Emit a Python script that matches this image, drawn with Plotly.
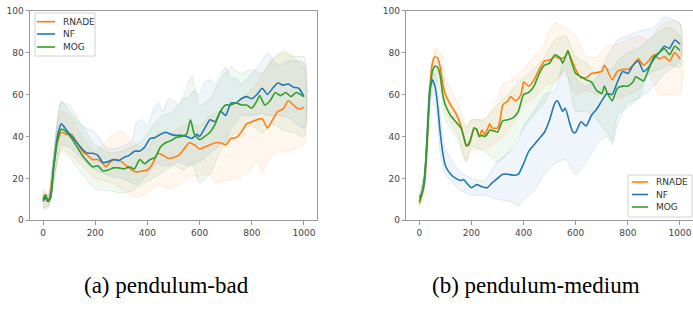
import plotly.graph_objects as go

W, H = 693, 323

# ---------------- data: (a) pendulum-bad ----------------
bad_rnade_x = [0, 5, 15, 25, 40, 55, 70, 90, 110, 130, 150, 170, 190, 210, 230, 240, 260, 280, 300, 320, 340, 360, 380, 400, 420, 440, 460, 480, 500, 520, 540, 560, 580, 600, 620, 640, 660, 680, 700, 720, 740, 760, 780, 800, 820, 840, 860, 880, 900, 920, 940, 960, 980, 1000]
bad_rnade_y = [10, 12, 9, 11, 25, 37, 42, 41, 41, 37, 33, 31, 29, 29, 27, 25.5, 28, 29, 28, 26, 24, 23, 23.5, 24, 27, 32, 31, 29.5, 30, 31, 34, 37, 36, 34, 35, 36, 37, 37, 36, 39, 39.5, 42, 46, 47, 48, 48.5, 44, 48, 52, 53, 57, 55, 53, 54]
bad_nf_x = [0, 10, 20, 30, 40, 55, 70, 90, 110, 130, 150, 170, 190, 210, 230, 250, 270, 290, 310, 330, 350, 370, 390, 410, 430, 450, 470, 490, 510, 530, 550, 570, 590, 600, 620, 640, 660, 680, 700, 720, 740, 760, 780, 800, 820, 840, 860, 880, 900, 920, 940, 960, 980, 1000]
bad_nf_y = [9, 11, 9, 12, 25, 40, 46, 43, 40, 37, 34, 32, 32, 31, 27.5, 28, 29, 28.5, 30, 31, 33, 33, 35, 39, 39.5, 41, 42, 41, 40.5, 40.5, 40, 39, 41, 40, 44, 48, 47, 52, 50, 56, 56, 58, 59, 58, 60, 63, 60, 63, 65.5, 64.5, 65, 63.5, 63, 59]
bad_mog_x = [0, 10, 20, 30, 40, 55, 70, 90, 110, 130, 150, 170, 190, 210, 230, 250, 270, 290, 310, 330, 350, 370, 390, 410, 430, 450, 470, 490, 510, 530, 550, 565, 580, 600, 620, 640, 660, 680, 700, 720, 740, 760, 780, 800, 820, 830, 850, 870, 890, 910, 930, 950, 970, 1000]
bad_mog_y = [10, 12, 9, 11, 24, 38, 43.5, 42, 39, 35, 31, 28, 25.5, 26, 23.5, 24, 25, 25, 24.5, 25.5, 24.5, 29, 27, 29, 30, 35, 37, 38, 39.5, 40, 41, 48, 41, 38.5, 40, 42, 46, 52, 55, 55, 56, 55, 55, 53.5, 57, 59.5, 55, 57, 61, 59.5, 61, 59, 61, 59]

bad_rnade_bx = [0, 20, 40, 70, 100, 150, 200, 260, 300, 340, 360, 400, 440, 480, 520, 560, 600, 640, 660, 700, 740, 780, 820, 840, 860, 880, 900, 920, 940, 960, 1000]
bad_rnade_hi = [14, 12, 30, 52, 50, 40, 33, 40, 43, 38, 36, 34, 42, 41, 44, 46, 45, 50, 51, 53, 56, 60, 65, 70, 73, 77, 79, 81, 80, 78, 72]
bad_rnade_lo = [6, 7, 20, 34, 32, 26, 20, 18, 15, 12, 11, 13, 17, 15, 17, 21, 21, 22, 18, 19, 20, 22, 28, 23, 28, 31, 33, 33, 33, 34, 36]
bad_nf_bx = [0, 20, 40, 70, 100, 150, 200, 240, 260, 300, 340, 360, 380, 400, 420, 440, 460, 480, 500, 520, 540, 560, 580, 600, 620, 640, 660, 700, 720, 740, 760, 800, 840, 860, 900, 940, 1000]
bad_nf_hi = [13, 12, 32, 57, 52, 45, 42, 35, 34, 35, 38, 47, 48, 45, 52, 56, 52, 58, 57, 55, 58, 59, 62, 60, 66, 67, 65, 73, 68, 68, 65, 70, 76, 80, 74, 76, 75]
bad_nf_lo = [5, 6, 18, 36, 35, 29, 24, 22, 21, 20, 18, 17, 19, 22, 25, 27, 26, 26, 27, 28, 27, 26, 27, 28, 30, 32, 34, 38, 44, 47, 50, 50, 51, 50, 50, 49, 44]
bad_mog_bx = [0, 20, 40, 70, 100, 150, 200, 260, 300, 340, 380, 420, 460, 500, 540, 570, 600, 640, 680, 720, 760, 800, 840, 880, 920, 960, 1000]
bad_mog_hi = [15, 12, 30, 56, 55, 45, 36, 32, 33, 35, 38, 45, 50, 52, 60, 69, 55, 58, 67, 73, 70, 72, 70, 77, 80, 78, 78]
bad_mog_lo = [6, 7, 18, 33, 30, 22, 15, 14, 13, 14, 17, 20, 23, 26, 24, 27, 18, 22, 33, 40, 43, 45, 42, 46, 43, 42, 40]

# ---------------- data: (b) pendulum-medium ----------------
med_rnade_x = [0, 10, 20, 30, 40, 50, 60, 70, 80, 90, 100, 120, 140, 160, 170, 180, 190, 200, 210, 220, 230, 240, 250, 260, 270, 280, 300, 310, 320, 340, 350, 370, 390, 400, 420, 440, 460, 480, 500, 520, 540, 560, 570, 580, 600, 620, 640, 660, 680, 700, 710, 720, 740, 760, 780, 800, 820, 840, 860, 880, 900, 920, 940, 960, 980, 1000]
med_rnade_y = [8, 12, 18, 35, 62, 75, 78, 77.5, 73, 65, 60, 55, 51, 45, 40, 35.5, 37, 40, 44, 43, 40, 43, 41, 43, 46, 44, 44, 48, 55, 57, 59, 57, 60, 66, 64, 67, 72, 76, 76.5, 78, 77, 78, 80.5, 78, 72, 68, 68, 70, 70.5, 71, 74, 72, 67, 71, 72, 72, 74, 77, 74, 76, 79, 77, 78, 76, 80, 77]
med_nf_x = [0, 10, 20, 30, 40, 50, 60, 70, 80, 90, 100, 120, 140, 160, 170, 180, 200, 220, 240, 260, 280, 300, 320, 340, 360, 380, 400, 420, 440, 460, 480, 500, 520, 530, 550, 560, 580, 590, 600, 620, 640, 660, 680, 700, 720, 740, 760, 780, 800, 820, 840, 860, 880, 900, 920, 940, 960, 980, 1000]
med_nf_y = [11, 13, 20, 40, 62, 67, 64, 55, 42, 32, 26, 22, 20, 19, 19.5, 18, 15.5, 17, 16, 15.5, 18, 20, 22, 22, 21.5, 22, 27, 33, 36, 39, 42, 48, 56, 57, 52, 53.5, 45, 42, 42, 47, 45, 50, 53, 57, 60.5, 60, 66, 71, 70, 74, 76, 71, 73, 77, 80, 83, 82, 86, 84]
med_mog_x = [0, 10, 20, 30, 40, 50, 60, 70, 80, 90, 100, 120, 140, 160, 170, 180, 190, 200, 210, 220, 230, 240, 250, 260, 270, 290, 300, 320, 340, 360, 380, 400, 420, 440, 460, 480, 500, 520, 540, 550, 570, 580, 600, 620, 640, 660, 680, 700, 710, 720, 740, 760, 780, 800, 820, 830, 860, 880, 900, 920, 940, 960, 980, 1000]
med_mog_y = [9, 13, 20, 38, 60, 71, 73.5, 73, 69, 60, 55, 50, 47, 44, 40, 35.5, 36, 40, 44, 43.5, 40, 40.5, 40, 41, 43, 42.5, 42, 47.5, 48, 49, 52, 60, 61, 64, 70, 74, 75, 79, 77.5, 75, 81, 77, 70, 68.5, 67, 66, 62, 60.5, 64, 61, 57, 63, 64, 64, 66, 68.5, 66.5, 72, 78, 80, 82, 79, 83, 81]

med_rnade_bx = [0, 20, 40, 60, 80, 100, 150, 180, 200, 250, 300, 320, 340, 360, 400, 440, 480, 500, 520, 560, 600, 640, 680, 720, 760, 800, 840, 880, 920, 960, 1000]
med_rnade_hi = [10, 22, 66, 82, 80, 68, 55, 45, 48, 48, 58, 65, 66, 68, 72, 78, 84, 91, 94, 92, 88, 78, 78, 83, 84, 86, 88, 86, 92, 95, 94]
med_rnade_lo = [5, 14, 56, 72, 66, 52, 40, 28, 33, 34, 38, 40, 44, 46, 55, 58, 64, 65, 66, 70, 60, 62, 60, 60, 58, 60, 62, 70, 60, 60, 60]
med_nf_bx = [0, 20, 40, 60, 80, 100, 150, 200, 250, 300, 350, 380, 400, 440, 480, 520, 560, 600, 640, 680, 720, 740, 760, 800, 840, 900, 940, 1000]
med_nf_hi = [13, 24, 66, 70, 50, 34, 24, 20, 19, 28, 33, 38, 45, 52, 60, 62, 78, 68, 64, 68, 78, 82, 86, 88, 90, 92, 97, 94]
med_nf_lo = [9, 16, 55, 55, 32, 22, 15, 12, 12, 10, 9, 7, 10, 14, 22, 27, 29, 22, 28, 36, 40, 36, 46, 56, 58, 64, 70, 76]
med_mog_bx = [0, 20, 40, 60, 80, 100, 150, 180, 200, 250, 300, 340, 400, 440, 480, 520, 560, 600, 640, 680, 720, 740, 760, 800, 840, 880, 920, 960, 1000]
med_mog_hi = [10, 24, 64, 76, 75, 62, 50, 44, 48, 48, 55, 60, 68, 72, 78, 86, 88, 78, 75, 70, 72, 72, 76, 80, 82, 86, 90, 92, 88]
med_mog_lo = [7, 16, 56, 68, 62, 48, 38, 28, 35, 33, 28, 32, 44, 50, 56, 66, 72, 52, 52, 48, 42, 38, 50, 54, 58, 70, 72, 74, 73]

series_names = ["RNADE", "NF", "MOG"]
colors = {"RNADE": (255, 127, 14), "NF": (31, 119, 180), "MOG": (44, 160, 44)}
captions = ["(a) pendulum-bad", "(b) pendulum-medium"]
x_ticks = [0, 200, 400, 600, 800, 1000]
y_ticks = [0, 20, 40, 60, 80, 100]

panels = [
    {"RNADE": (bad_rnade_x, bad_rnade_y, bad_rnade_bx, bad_rnade_lo, bad_rnade_hi),
     "NF": (bad_nf_x, bad_nf_y, bad_nf_bx, bad_nf_lo, bad_nf_hi),
     "MOG": (bad_mog_x, bad_mog_y, bad_mog_bx, bad_mog_lo, bad_mog_hi)},
    {"RNADE": (med_rnade_x, med_rnade_y, med_rnade_bx, med_rnade_lo, med_rnade_hi),
     "NF": (med_nf_x, med_nf_y, med_nf_bx, med_nf_lo, med_nf_hi),
     "MOG": (med_mog_x, med_mog_y, med_mog_bx, med_mog_lo, med_mog_hi)},
]

# ---------------- layout geometry (pixels) ----------------
def px(x):
    return x / W

def py(y):
    return 1 - y / H

axes_px = [(30, 317, 10.7, 220.3), (406.3, 693.3, 10.7, 220.3)]

fig = go.Figure()

def rgba(c, a):
    return f"rgba({c[0]},{c[1]},{c[2]},{a})"

for i, data in enumerate(panels):
    xa = "x" if i == 0 else "x2"
    ya = "y" if i == 0 else "y2"
    for name in series_names:
        mx, my, bx, lo, hi = data[name]
        c = colors[name]
        fig.add_trace(go.Scatter(
            x=list(bx) + list(bx)[::-1], y=list(hi) + list(lo)[::-1],
            fill="toself", fillcolor=rgba(c, 0.07),
            line=dict(color=rgba(c, 0.13), width=1, shape="spline", smoothing=0.6),
            mode="lines", hoverinfo="skip", showlegend=False, xaxis=xa, yaxis=ya))
    for name in series_names:
        mx, my, bx, lo, hi = data[name]
        c = colors[name]
        fig.add_trace(go.Scatter(
            x=mx, y=my, mode="lines", name=name,
            line=dict(color=rgba(c, 1), width=1.6, shape="spline", smoothing=0.5),
            showlegend=False, xaxis=xa, yaxis=ya))

axis_common = dict(
    showgrid=False, zeroline=False, showline=True, mirror=True, automargin=False,
    linecolor="#9a9a9a", linewidth=1, ticks="outside", ticklen=3.5,
    tickcolor="#9a9a9a", tickwidth=1,
    tickfont=dict(family="DejaVu Sans", size=9, color="#444444"),
)

layout = dict(
    template="none",
    width=W, height=H, margin=dict(l=0, r=0, t=0, b=0, pad=0, autoexpand=False),
    paper_bgcolor="white", plot_bgcolor="white", showlegend=False,
)
for i, (x0, x1, y0, y1) in enumerate(axes_px):
    sx = "" if i == 0 else "2"
    layout["xaxis" + sx] = dict(axis_common, domain=[px(x0), min(px(x1), 1.0)],
                                range=[-50, 1050], tickvals=x_ticks,
                                ticktext=[str(t) for t in x_ticks],
                                anchor="y" + sx)
    layout["yaxis" + sx] = dict(axis_common, domain=[py(y1), py(y0)],
                                range=[0, 100], tickvals=y_ticks,
                                ticktext=[str(t) for t in y_ticks],
                                anchor="x" + sx)
fig.update_layout(**layout)

# ---------------- legends (drawn as layout decorations) ----------------
legend_boxes = [
    dict(box=(35, 95, 13, 56), ys=[21.7, 34, 47], lx=(37, 55), tx=61),
    dict(box=(628, 692, 175, 217), ys=[182, 194.5, 207], lx=(632, 648), tx=654),
]
shapes = []
annotations = []
for lb in legend_boxes:
    bx0, bx1, by0, by1 = lb["box"]
    shapes.append(dict(type="rect", xref="paper", yref="paper",
                       x0=px(bx0), x1=px(bx1), y0=py(by1), y1=py(by0),
                       line=dict(color="#d0d0d0", width=1), fillcolor="rgba(255,255,255,0.8)"))
    for name, yy in zip(series_names, lb["ys"]):
        shapes.append(dict(type="line", xref="paper", yref="paper",
                           x0=px(lb["lx"][0]), x1=px(lb["lx"][1]), y0=py(yy), y1=py(yy),
                           line=dict(color=rgba(colors[name], 1), width=1.6)))
        annotations.append(dict(xref="paper", yref="paper", x=px(lb["tx"]), y=py(yy),
                                text=name, showarrow=False, xanchor="left", yanchor="middle",
                                font=dict(family="DejaVu Sans", size=9, color="#333333")))

for cx, cap in zip([166, 536], captions):
    annotations.append(dict(xref="paper", yref="paper", x=px(cx), y=py(285),
                            text=cap, showarrow=False, xanchor="center", yanchor="middle",
                            font=dict(family="Liberation Serif", size=23, color="black")))

fig.update_layout(shapes=shapes, annotations=annotations)
fig.write_html(
    "out.html",
    config={"displayModeBar": False},
    post_script="document.body.style.margin='0';document.body.style.overflow='hidden';",
)
